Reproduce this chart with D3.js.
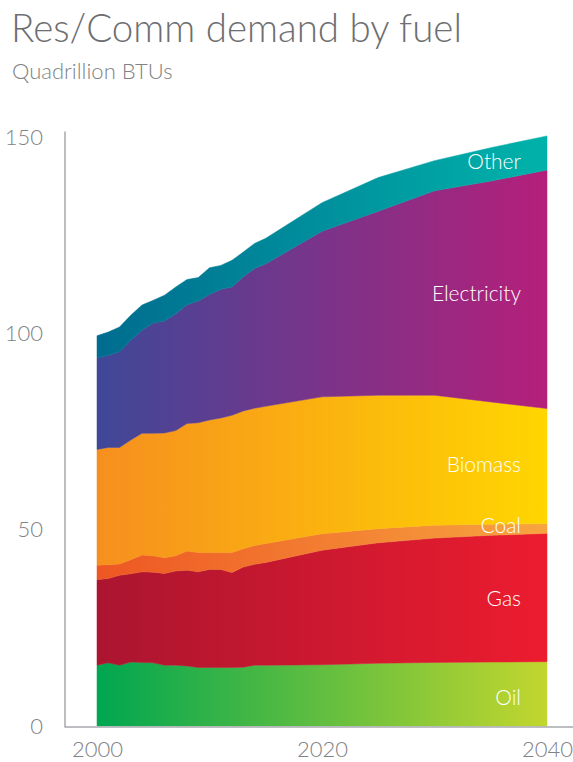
<!DOCTYPE html>
<html>
<head>
<meta charset="utf-8">
<script src="https://cdn.jsdelivr.net/npm/d3@7"></script>
<style>
  html, body { margin: 0; padding: 0; background: #fff; }
  svg { display: block; font-family: Lato, "Open Sans", sans-serif; }
</style>
</head>
<body>
<div id="chart"></div>
<script>
// years: annual history, then 5-year outlook
const years = [2000, 2001, 2002, 2003, 2004, 2005, 2006, 2007, 2008, 2009, 2010,
  2011, 2012, 2013, 2014, 2015, 2020, 2025, 2030, 2035, 2040];

const oil = [15.5, 16.1, 15.5, 16.3, 16.2, 16.1, 15.5, 15.5, 15.3, 14.9, 14.9,
  14.9, 14.9, 15.0, 15.5, 15.5, 15.6, 16.0, 16.2, 16.3, 16.4];
const gas = [21.8, 21.5, 22.9, 22.5, 23.1, 23.1, 23.4, 24.0, 24.4, 24.4, 25.0,
  25.0, 24.2, 25.5, 25.7, 26.2, 29.2, 30.7, 31.7, 32.3, 32.7];
const coal = [3.7, 3.5, 2.9, 3.6, 4.3, 4.2, 4.0, 3.9, 4.9, 4.9, 4.3,
  4.3, 5.1, 4.7, 4.8, 4.8, 4.2, 3.6, 3.3, 2.8, 2.5];
const biomass = [29.5, 29.9, 29.7, 30.5, 31.0, 31.2, 31.8, 31.9, 32.5, 33.1, 33.8,
  34.3, 35.0, 35.1, 35.0, 35.0, 34.9, 34.0, 33.1, 31.2, 29.3];
const electricity = [23.3, 23.5, 24.4, 25.4, 26.3, 28.1, 28.5, 29.8, 30.3, 31.0, 32.0,
  32.8, 32.7, 34.2, 35.6, 36.3, 42.2, 46.9, 52.1, 56.3, 60.8];
const other = [5.7, 5.9, 6.3, 6.4, 6.4, 5.8, 6.6, 6.8, 6.4, 6.0, 6.8,
  6.1, 6.8, 6.3, 6.4, 6.5, 7.3, 8.6, 7.7, 8.5, 8.7];

const yTicks = [0, 50, 100, 150];
const xTicks = [2000, 2020, 2040];

const series = [
  { key: 'oil', label: 'Oil', values: oil, from: '#00a651', to: '#c2d62e' },
  { key: 'gas', label: 'Gas', values: gas, from: '#ab1530', to: '#ed1c2f' },
  { key: 'coal', label: 'Coal', values: coal, from: '#ee5623', to: '#f7a540' },
  { key: 'biomass', label: 'Biomass', values: biomass, from: '#f68f1f', to: '#ffd600' },
  { key: 'electricity', label: 'Electricity', values: electricity, from: '#3f4898', to: '#b51f7a' },
  { key: 'other', label: 'Other', values: other, from: '#006c8f', to: '#00b3aa' },
];

const width = 573;
const height = 762;
const axisX = 65;
const axisColor = '#a7a9ac';
const textColor = '#808285';

const table = years.map((yr, i) => {
  const row = { year: yr };
  series.forEach((s) => { row[s.key] = s.values[i]; });
  return row;
});

const svg = d3.select('#chart')
  .append('svg')
  .attr('width', width)
  .attr('height', height);

svg.append('text')
  .attr('x', 11)
  .attr('y', 42)
  .style('font-size', '38.5px')
  .style('font-weight', 300)
  .style('fill', '#6d6e71')
  .text('Res/Comm demand by fuel');

svg.append('text')
  .attr('x', 12)
  .attr('y', 79)
  .style('font-size', '22px')
  .style('font-weight', 300)
  .style('fill', textColor)
  .text('Quadrillion BTUs');

const x = d3.scaleLinear().domain([2000, 2040]).range([97, 547]);
const y = d3.scaleLinear().domain([0, 150]).range([726, 137.5]);

const defs = svg.append('defs');
series.forEach((s) => {
  const grad = defs.append('linearGradient')
    .attr('id', `grad-${s.key}`)
    .attr('gradientUnits', 'userSpaceOnUse')
    .attr('x1', x(2000)).attr('x2', x(2040))
    .attr('y1', 0).attr('y2', 0);
  grad.append('stop').attr('offset', '0%').attr('stop-color', s.from);
  grad.append('stop').attr('offset', '100%').attr('stop-color', s.to);
});

const stack = d3.stack().keys(series.map((s) => s.key));
const layers = stack(table);

const area = d3.area()
  .x((d) => x(d.data.year))
  .y0((d) => y(d[0]))
  .y1((d) => y(d[1]));

svg.append('g')
  .selectAll('path')
  .data(layers)
  .enter()
  .append('path')
  .attr('d', area)
  .attr('fill', (d) => `url(#grad-${d.key})`)
  .attr('stroke', (d) => `url(#grad-${d.key})`)
  .attr('stroke-width', 0.5);

// series labels, right-aligned inside the last part of each band
const labelX = 521;
const labelPos = { oil: 0.45, gas: 0.5, coal: 0.8, biomass: 0.5, electricity: 0.485, other: 0.45 };
const labelYear = 2037;
svg.append('g')
  .selectAll('text')
  .data(layers)
  .enter()
  .append('text')
  .attr('x', labelX)
  .attr('y', (d) => {
    const last = d[d.length - 2];
    const next = d[d.length - 1];
    const t = (labelYear - last.data.year) / (next.data.year - last.data.year);
    const lo = last[0] + (next[0] - last[0]) * t;
    const hi = last[1] + (next[1] - last[1]) * t;
    return y(lo + (hi - lo) * labelPos[d.key]);
  })
  .attr('dy', '0.35em')
  .attr('text-anchor', 'end')
  .style('font-size', '21px')
  .style('font-weight', 300)
  .style('fill', '#fff')
  .text((d) => series.find((s) => s.key === d.key).label);

const yAxis = d3.axisLeft(y)
  .tickValues(yTicks)
  .tickSize(0)
  .tickPadding(22)
  .tickFormat(d3.format('d'));

const gy = svg.append('g')
  .attr('transform', `translate(${axisX},0)`)
  .call(yAxis);
gy.select('.domain').remove();
gy.selectAll('text')
  .style('font-family', 'Lato, "Open Sans", sans-serif')
  .style('font-size', '22px')
  .style('font-weight', 300)
  .style('fill', textColor);

const xAxis = d3.axisBottom(x)
  .tickValues(xTicks)
  .tickSize(0)
  .tickPadding(14)
  .tickFormat(d3.format('d'));

const gx = svg.append('g')
  .attr('transform', `translate(0,${y(0) + 1})`)
  .call(xAxis);
gx.select('.domain').remove();
gx.selectAll('text')
  .style('font-family', 'Lato, "Open Sans", sans-serif')
  .style('font-size', '22px')
  .style('font-weight', 300)
  .style('fill', textColor);

svg.append('line')
  .attr('x1', axisX).attr('x2', axisX)
  .attr('y1', y(151.5)).attr('y2', y(0) + 1.5)
  .attr('stroke', axisColor)
  .attr('stroke-width', 1.5);

svg.append('line')
  .attr('x1', axisX).attr('x2', width)
  .attr('y1', y(0) + 1).attr('y2', y(0) + 1)
  .attr('stroke', axisColor)
  .attr('stroke-width', 1.5);
</script>
</body>
</html>
